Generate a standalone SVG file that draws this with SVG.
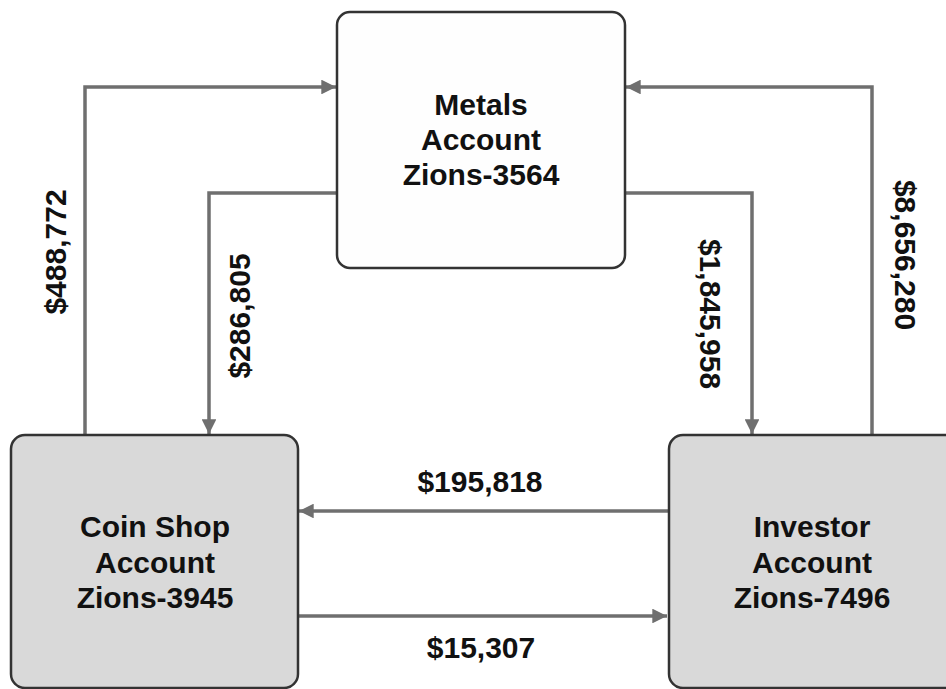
<svg xmlns="http://www.w3.org/2000/svg" width="946" height="689" viewBox="0 0 946 689">
<style>
.box{stroke:#333;stroke-width:2.5}
.white{fill:#fefefe}
.gray{fill:#d9d9d9}
.t{font-family:"Liberation Sans",Arial,sans-serif;font-weight:bold;font-size:30px;fill:#111;text-anchor:middle}
.c{fill:none;stroke:#6f6f6f;stroke-width:3.5}
</style>
<defs>
<marker id="ah" viewBox="0 0 10 10" refX="10" refY="5" markerWidth="4.2" markerHeight="4.2" orient="auto" markerUnits="strokeWidth">
<path d="M0,0 L10,5 L0,10 Z" fill="#6f6f6f"/>
</marker>
</defs>
<rect width="946" height="689" fill="#fff"/>
<g id="connectors">
<polyline class="c" points="85,435 85,87 336,87" marker-end="url(#ah)"/>
<polyline class="c" points="337,193 209,193 209,434" marker-end="url(#ah)"/>
<polyline class="c" points="625,193 752,193 752,434" marker-end="url(#ah)"/>
<polyline class="c" points="872,435 872,87 626,87" marker-end="url(#ah)"/>
<line class="c" x1="669" y1="511" x2="299" y2="511" marker-end="url(#ah)"/>
<line class="c" x1="297" y1="616" x2="667" y2="616" marker-end="url(#ah)"/>
<text class="t" transform="translate(66,252) rotate(-90)">$488,772</text>
<text class="t" transform="translate(250,316) rotate(-90)">$286,805</text>
<text class="t" transform="translate(700,314) rotate(90)">$1,845,958</text>
<text class="t" transform="translate(895,255) rotate(90)">$8,656,280</text>
<text class="t" x="480" y="492">$195,818</text>
<text class="t" x="481" y="658">$15,307</text>
</g>
<g id="metals">
<rect class="box white" x="337" y="12" width="288" height="256" rx="13"/>
<text class="t" x="481" y="115">Metals</text>
<text class="t" x="481" y="150">Account</text>
<text class="t" x="481" y="185">Zions-3564</text>
</g>
<g id="coinshop">
<rect class="box gray" x="11" y="435" width="287" height="253" rx="14"/>
<text class="t" x="155" y="537">Coin Shop</text>
<text class="t" x="155" y="573">Account</text>
<text class="t" x="155" y="608">Zions-3945</text>
</g>
<g id="investor">
<rect class="box gray" x="669" y="435" width="290" height="253" rx="14"/>
<text class="t" x="812" y="537">Investor</text>
<text class="t" x="812" y="573">Account</text>
<text class="t" x="812" y="608">Zions-7496</text>
</g>
</svg>
